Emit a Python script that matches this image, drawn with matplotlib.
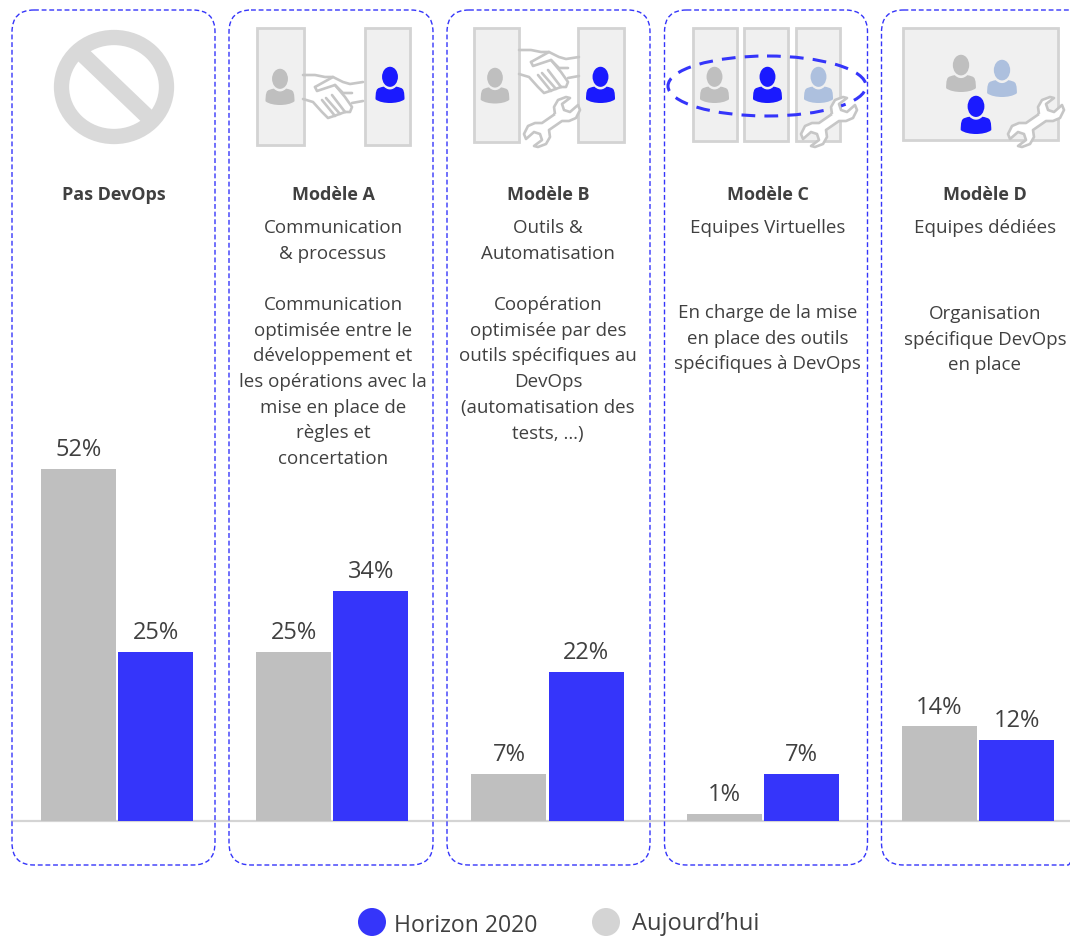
# DevOps models chart: one bar per period for each model, with small icons above

import numpy as np
import matplotlib
matplotlib.use("Agg")
import matplotlib.pyplot as plt
from matplotlib.patches import Ellipse, FancyBboxPatch, PathPatch, Rectangle
from matplotlib.path import Path

models = ["Pas DevOps", "Modèle A", "Modèle B", "Modèle C", "Modèle D"]
today = [52, 25, 7, 1, 14]
horizon = [25, 34, 22, 7, 12]
subtitles = ["", "Communication\n& processus", "Outils &\nAutomatisation",
             "Equipes Virtuelles", "Equipes dédiées"]
descriptions = [
    "",
    "Communication\noptimisée entre le\ndéveloppement et\nles opérations avec la\nmise en place de\nrègles et\nconcertation",
    "Coopération\noptimisée par des\noutils spécifiques au\nDevOps\n(automatisation des\ntests, …)",
    "En charge de la mise\nen place des outils\nspécifiques à DevOps",
    "Organisation\nspécifique DevOps\nen place",
]
legend_labels = ["Horizon 2020", "Aujourd’hui"]

BLUE_BAR = "#3535FA"
BLUE = "#1A1AFF"
GREY_BAR = "#BFBFBF"
LIGHT_BLUE = "#ADC0DE"
TEXT = "#404040"
ICON_LINE = "#C6C6C6"

plt.rcParams["font.family"] = ["Open Sans", "DejaVu Sans"]

fig = plt.figure(figsize=(10.7, 9.36), dpi=100)

# overlay in pixel units for the boxes, icons and text
ov = fig.add_axes([0, 0, 1, 1])
ov.set_xlim(0, 1070)
ov.set_ylim(936, 0)
ov.axis("off")

# bars get their own axes, lined up so 0 sits on the baseline
ax = fig.add_axes([0, 0, 1, 1])
ax.patch.set_alpha(0)
ax.axis("off")
ax.set_xlim(-117 / 215.25, (1070 - 117) / 215.25)
ax.set_ylim((821 - 936) / 6.765, 821 / 6.765)
x = np.arange(len(models))
w = 75 / 215.25
b1 = ax.bar(x - 0.179, today, w, color=GREY_BAR)
b2 = ax.bar(x + 0.179, horizon, w, color=BLUE_BAR)
for bars in (b1, b2):
    for r in bars:
        ax.annotate("%d%%" % r.get_height(),
                    (r.get_x() + r.get_width() / 2, r.get_height()),
                    xytext=(0, 13.5), textcoords="offset points",
                    ha="center", va="center", fontsize=17, color=TEXT)
ov.plot([12, 1070], [821, 821], color="#D4D4D4", lw=1.6, zorder=1)


def person(cx, top, bottom, color):
    s = (bottom - top) / 38.5
    ov.add_patch(Ellipse((cx, top + 10.5 * s), 17 * s, 21.5 * s, fc=color, ec="none", zorder=4))
    pts = [(0, 24), (3, 24), (5, 22.5), (6.5, 21), (9, 21.5), (14, 22), (14.5, 25.5),
           (15.5, 28), (15.5, 32), (15.5, 34.5), (12, 37.5), (5, 38.5), (0, 38.5),
           (-5, 38.5), (-12, 37.5), (-15.5, 34.5), (-15.5, 32), (-15.5, 28), (-14.5, 25.5),
           (-14, 22), (-9, 21.5), (-6.5, 21), (-5, 22.5), (-3, 24), (0, 24)]
    pts = [(cx + a * s, top + b * s) for a, b in pts]
    codes = [Path.MOVETO] + [Path.CURVE4] * (len(pts) - 1)
    ov.add_patch(PathPatch(Path(pts, codes), fc=color, ec="none", zorder=4))


def panel(x0, x1, y1):
    ov.add_patch(Rectangle((x0, 27.5), x1 - x0, y1 - 27.5, fc="#F0F0F0", ec="#D3D3D3", lw=2, zorder=2))


def handshake(dx, dy):
    lines = [
        [(303, 75), (315, 75), (325, 77), (333, 77)],
        [(315, 87), (333, 77), (343, 82), (350, 84), (363, 82)],
        [(315, 87), (317, 91), (335, 85), (343, 93), (352, 93)],
        [(335, 85), (345, 97), (352, 107), (350, 112), (345, 112)],
        [(303, 99), (313, 102), (322, 112), (328, 118), (334, 116), (345, 112)],
        [(352, 103), (363, 101)],
        [(322, 100), (335, 116)],
        [(326, 98), (340, 114)],
        [(332, 95), (345, 112)],
    ]
    for ln in lines:
        px, py = zip(*ln)
        ov.plot(np.array(px) + dx, np.array(py) + dy, color=ICON_LINE, lw=1.9,
                solid_joinstyle="round", solid_capstyle="round", zorder=3)


def wrench(cx, cy):
    half = [(3, -8), (2, -15), (6, -22), (14, -25), (18, -24), (10, -18), (12, -12),
            (18, -10), (26, -17), (28, -12), (24, -4), (17, -1), (10, -1)]
    pts = half + [(-a, -b) for a, b in half] + [half[0]]
    xy = [(cx + a, cy + b) for a, b in pts]
    codes = [Path.MOVETO] + [Path.LINETO] * (len(xy) - 1)
    ov.add_patch(PathPatch(Path(xy, codes), fc="white", ec=ICON_LINE, lw=1.9, joinstyle="round", zorder=5))


# dashed boxes around each column
for x0, x1 in [(12, 215), (229, 433), (447, 650), (664.5, 867.5), (881.5, 1090)]:
    ov.add_patch(FancyBboxPatch((x0 + 22, 32), x1 - x0 - 44, 811, boxstyle="round,pad=22,rounding_size=22",
                                mutation_aspect=1, fc="none", ec=BLUE_BAR, lw=1.0, ls=(0, (3.5, 2)), zorder=6))

# pas devops icon
ov.add_patch(Ellipse((114, 87), 105, 99, fc="none", ec="#D9D9D9", lw=11, zorder=2))
ov.plot([80, 151], [52, 120], color="#D9D9D9", lw=11.5, solid_capstyle="butt", zorder=2)

panel(257, 303.5, 145)
panel(364.5, 410, 145)
person(280, 69, 105, GREY_BAR)
person(390, 67, 103, BLUE)
handshake(0, 0)

panel(474, 519, 142)
panel(578, 624, 142)
person(495, 68, 103.5, GREY_BAR)
person(600.5, 67, 103, BLUE)
handshake(216, -25)
wrench(552, 122)

panel(693, 737, 141)
panel(744, 788, 141)
panel(796, 840, 141)
person(714.5, 67, 103, GREY_BAR)
person(767.5, 67, 103, BLUE)
person(818.5, 67, 103, LIGHT_BLUE)
ov.add_patch(Ellipse((767, 86), 198, 60, fc="none", ec=BLUE_BAR, lw=2.2, ls=(0, (4.5, 3)), zorder=4.5))
wrench(829, 122)

panel(903, 1058, 140)
person(961, 55, 92, GREY_BAR)
person(1002, 60, 97, LIGHT_BLUE)
person(976, 96, 134, BLUE)
wrench(1036, 122)

# column text
centres = [114, 333, 548, 767.5, 985]
desc_top = [0, 305, 305, 313, 314]
for i in range(len(models)):
    ov.text(centres[i], 195, models[i], ha="center", va="center", fontsize=13, fontweight="bold", color=TEXT)
    for j, line in enumerate(subtitles[i].split("\n") if subtitles[i] else []):
        ov.text(centres[i], 228 + j * 26, line, ha="center", va="center", fontsize=13.5, color=TEXT)
    for j, line in enumerate(descriptions[i].split("\n") if descriptions[i] else []):
        ov.text(centres[i], desc_top[i] + j * 25.7, line, ha="center", va="center", fontsize=13.5, color=TEXT)

# legend
ov.add_patch(Ellipse((372, 922), 28, 28, fc=BLUE_BAR, ec="none"))
ov.add_patch(Ellipse((606, 922), 28, 28, fc="#D4D4D4", ec="none"))
ov.text(394, 925.5, legend_labels[0], ha="left", va="center", fontsize=16.6, color=TEXT)
ov.text(632, 924.5, legend_labels[1], ha="left", va="center", fontsize=17, color=TEXT)

fig.savefig("out.png", dpi=100)
